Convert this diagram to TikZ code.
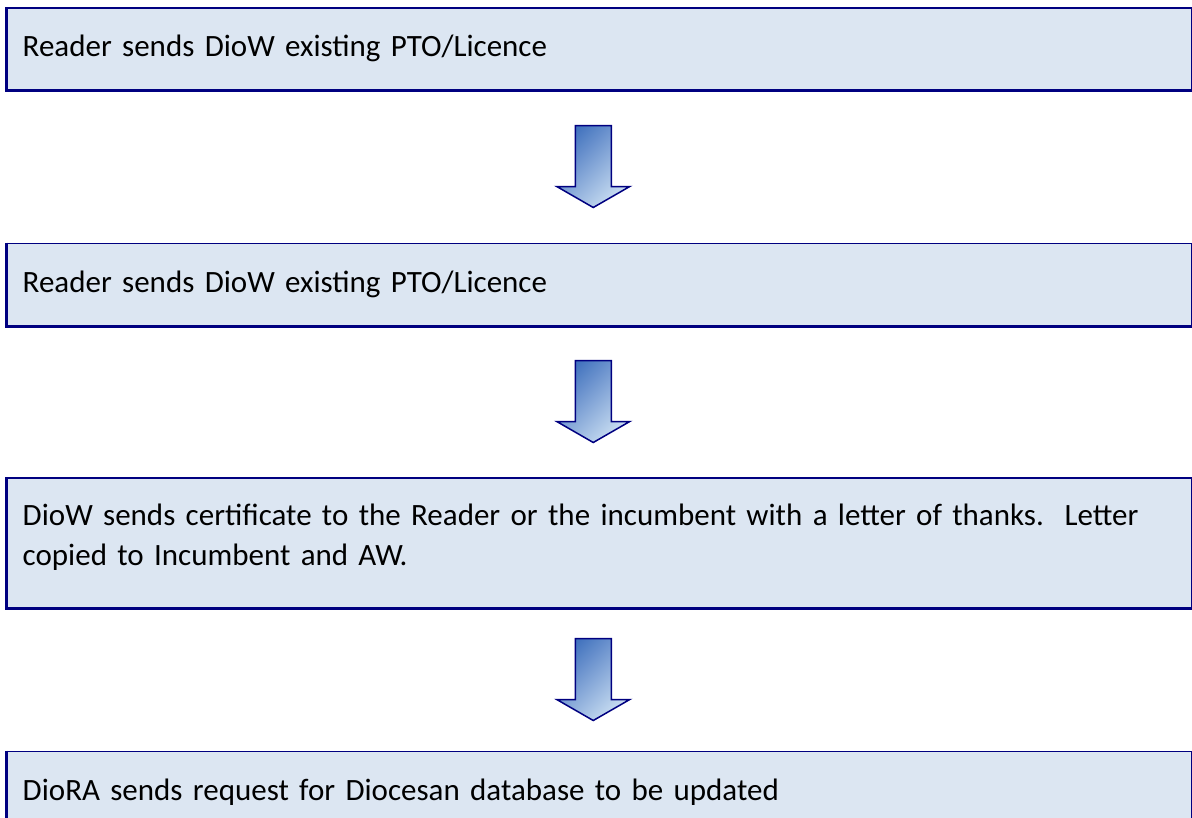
\documentclass[tikz,border=0pt]{standalone}
\usepackage{fontspec}
\setmainfont{Carlito}
\usetikzlibrary{positioning,calc}

\definecolor{boxfill}{RGB}{220,230,242}
\definecolor{boxline}{RGB}{0,0,128}
\definecolor{arrowtop}{RGB}{66,114,190}
\definecolor{arrowbot}{RGB}{202,222,242}

\tikzset{
 stage/.style={draw=boxline, fill=boxfill, line width=1.5pt, anchor=north west,
  minimum width=1185pt, minimum height=82pt, text width=1153pt, align=left,
  font=\fontsize{31}{40}\selectfont},
 stageedge/.style={draw=boxline, line width=3pt, line join=miter},
 flowarrow/.style={draw=boxline, line width=1.5pt, line join=miter,
  top color=arrowtop, bottom color=arrowbot, shading angle=45}
}

\begin{document}
\begin{tikzpicture}
[x=1pt,y=-1pt]
\useasboundingbox (0,0) rectangle (1192,817);

\node[stage] (r1) at (6,7) {Reader sends DioW existing PTO/Licence};
\node[stage,below=152pt of r1] (r2) {Reader sends DioW existing PTO/Licence};
\node[stage,below=151pt of r2,minimum height=130pt] (r3) {DioW sends certificate to the Reader or the incumbent with a letter of thanks.\ \ Letter\\copied to Incumbent and AW.\rule[-17pt]{0pt}{17pt}};
\node[stage,below=142pt of r3] (r4) {DioRA sends request for Diocesan database to be updated};

% heavier left and bottom edges
\foreach \n in {r1,r2,r3,r4}{
\draw[stageedge] (\n.north west) -- (\n.south west) -- (\n.south east);
}

% block arrows between the stages
\foreach \a/\b in {r1/r2,r2/r3,r3/r4}{
\begin{scope}[shift={($(\a.south)!0.5!(\b.north)+(-6,0)$)}]
\path[flowarrow] (-18,-41) -- (18,-41) -- (18,20) -- (36.5,20) -- (0,41) -- (-36.5,20) -- (-18,20) -- cycle;
\end{scope}
}
\end{tikzpicture}
\end{document}
